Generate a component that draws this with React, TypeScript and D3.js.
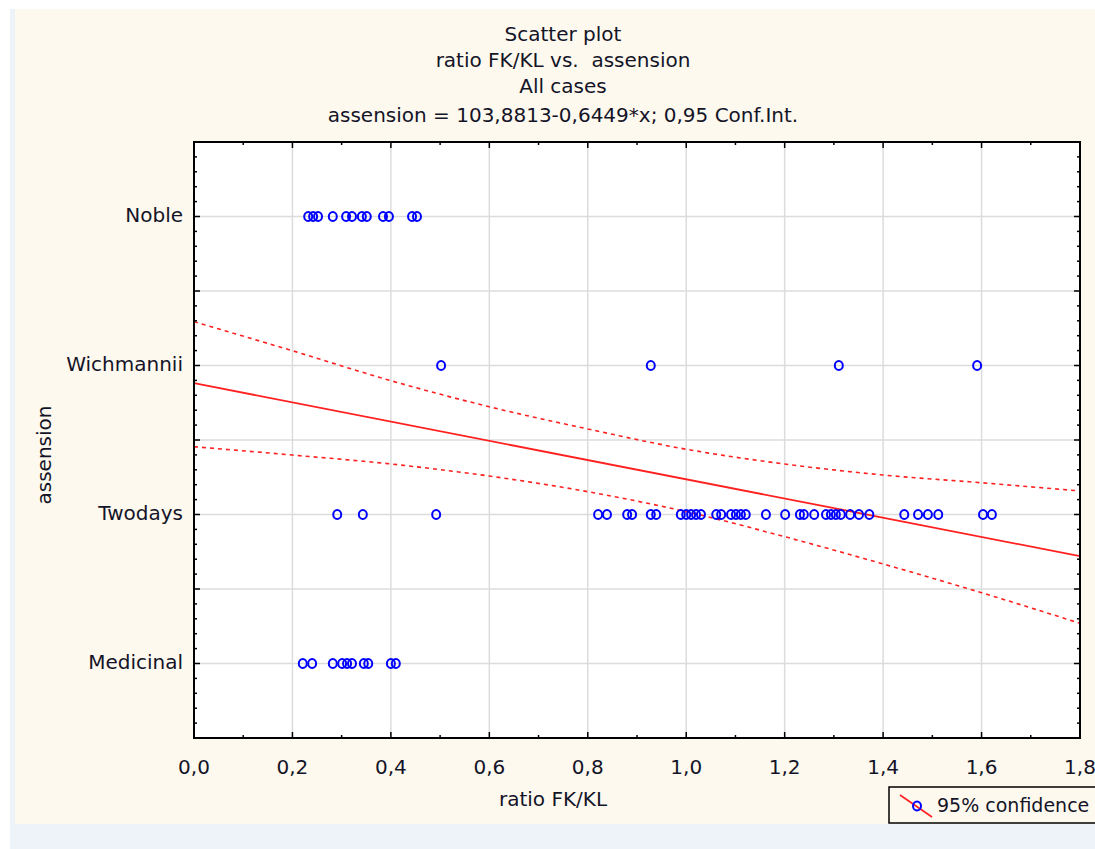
import { useEffect, useRef } from 'react'
import * as d3 from 'd3'

const categories = ['Medicinal', 'Twodays', 'Wichmannii', 'Noble']
const categoryCodes = [102, 103, 104, 105]

const xTickValues = [0, 0.2, 0.4, 0.6, 0.8, 1.0, 1.2, 1.4, 1.6, 1.8]

// ratio FK/KL per group
const nobleX = [0.232, 0.242, 0.252, 0.282, 0.309, 0.321, 0.341, 0.351, 0.384, 0.396, 0.443, 0.453]
const wichmanniiX = [0.502, 0.928, 1.31, 1.591]
const twodaysX = [
  0.291, 0.343, 0.492, 0.821, 0.839, 0.88, 0.89, 0.928, 0.939, 0.989, 1.0, 1.01, 1.02, 1.03,
  1.061, 1.071, 1.091, 1.101, 1.111, 1.121, 1.162, 1.201, 1.231, 1.239, 1.26, 1.284, 1.294,
  1.304, 1.314, 1.333, 1.351, 1.372, 1.443, 1.471, 1.491, 1.512, 1.603, 1.621
]
const medicinalX = [0.221, 0.24, 0.282, 0.301, 0.311, 0.321, 0.345, 0.354, 0.4, 0.41]

// regression from the title
const intercept = 103.8813
const slope = -0.6449

// 95% confidence bands
const bandX = [0, 0.2, 0.4, 0.6, 0.8, 1.0, 1.2, 1.4, 1.6, 1.8]
const upperBand = [104.294, 104.099, 103.898, 103.723, 103.574, 103.438, 103.339, 103.265, 103.213, 103.158]
const lowerBand = [103.455, 103.399, 103.339, 103.258, 103.153, 103.019, 102.851, 102.668, 102.475, 102.27]

const titleLines = [
  'Scatter plot',
  'ratio FK/KL vs.  assension',
  'All cases',
  'assension = 103,8813-0,6449*x; 0,95 Conf.Int.'
]

const W = 1095
const H = 849
const FONT = 'DejaVu Sans, Verdana, sans-serif'
const TEXT = '#141428'

export default function App() {
  const svgRef = useRef<SVGSVGElement>(null)

  useEffect(() => {
    if (!svgRef.current) return
    const svg = d3.select(svgRef.current)
    svg.selectAll('*').remove()

    const plot = { left: 194, right: 1080, top: 142, bottom: 738 }

    const x = d3.scaleLinear().domain([0, 1.8]).range([plot.left, plot.right])
    const y = d3.scaleLinear().domain([101.5, 105.5]).range([plot.bottom, plot.top])

    // backgrounds
    svg.append('rect').attr('width', W).attr('height', H).style('fill', '#ffffff')
    svg.append('rect').attr('x', 10).attr('y', 9).attr('width', W - 10).attr('height', H - 9).style('fill', '#eef2f9')
    svg.append('rect').attr('x', 15).attr('y', 9).attr('width', W - 15).attr('height', 815).style('fill', '#fef9ee')
    svg.append('rect')
      .attr('x', plot.left).attr('y', plot.top)
      .attr('width', plot.right - plot.left).attr('height', plot.bottom - plot.top)
      .style('fill', '#ffffff')

    const addText = (tx: number, ty: number, t: string, anchor = 'middle', size = 20) =>
      svg.append('text')
        .attr('x', tx)
        .attr('y', ty)
        .attr('text-anchor', anchor)
        .attr('dominant-baseline', 'middle')
        .style('font-family', FONT)
        .style('font-size', `${size}px`)
        .style('white-space', 'pre')
        .style('fill', TEXT)
        .text(t)

    // title
    const titleY = [35, 61, 87, 116]
    titleLines.forEach((t, i) => addText(563, titleY[i], t))

    // grid
    xTickValues.slice(1, -1).forEach(v => {
      svg.append('line')
        .attr('x1', x(v)).attr('x2', x(v))
        .attr('y1', plot.top).attr('y2', plot.bottom)
        .style('stroke', '#dcdcdc').style('stroke-width', '1.5px')
    })
    d3.range(102, 105.01, 0.5).forEach(v => {
      svg.append('line')
        .attr('x1', plot.left).attr('x2', plot.right)
        .attr('y1', y(v)).attr('y2', y(v))
        .style('stroke', '#dcdcdc').style('stroke-width', '1.5px')
    })

    const clip = svg.append('clipPath').attr('id', 'plotclip')
    clip.append('rect')
      .attr('x', plot.left).attr('y', plot.top)
      .attr('width', plot.right - plot.left).attr('height', plot.bottom - plot.top)
    const g = svg.append('g').attr('clip-path', 'url(#plotclip)')

    // confidence bands
    const bandLine = d3.line<number>()
      .x((_, i) => x(bandX[i]))
      .curve(d3.curveMonotoneX)
    ;[upperBand, lowerBand].forEach(band => {
      g.append('path')
        .attr('d', bandLine.y(d => y(d))(band))
        .style('fill', 'none')
        .style('stroke', '#ff2020')
        .style('stroke-width', '1.6px')
        .style('stroke-dasharray', '4,4')
    })

    // regression line
    g.append('line')
      .attr('x1', x(0)).attr('y1', y(intercept))
      .attr('x2', x(1.8)).attr('y2', y(intercept + slope * 1.8))
      .style('stroke', '#ff2020')
      .style('stroke-width', '1.8px')

    // points
    const groups = [medicinalX, twodaysX, wichmanniiX, nobleX]
    groups.forEach((xs, gi) => {
      xs.forEach(v => {
        g.append('ellipse')
          .attr('cx', x(v))
          .attr('cy', y(categoryCodes[gi]))
          .attr('rx', 4)
          .attr('ry', 4.5)
          .style('fill', 'none')
          .style('stroke', '#0000ff')
          .style('stroke-width', '2px')
      })
    })

    // frame
    svg.append('rect')
      .attr('x', plot.left).attr('y', plot.top)
      .attr('width', plot.right - plot.left).attr('height', plot.bottom - plot.top)
      .style('fill', 'none').style('stroke', '#000').style('stroke-width', '2px')

    // ticks (inward)
    d3.range(0, 1.801, 0.1).forEach((v, i) => {
      const len = i % 2 === 0 ? 6 : 3
      svg.append('line').attr('x1', x(v)).attr('x2', x(v))
        .attr('y1', plot.bottom).attr('y2', plot.bottom - len)
        .style('stroke', '#000').style('stroke-width', '1.5px')
      svg.append('line').attr('x1', x(v)).attr('x2', x(v))
        .attr('y1', plot.top).attr('y2', plot.top + len)
        .style('stroke', '#000').style('stroke-width', '1.5px')
    })
    d3.range(101.5, 105.501, 0.1).forEach((v, i) => {
      const len = i % 5 === 0 ? 6 : 3
      svg.append('line').attr('x1', plot.left).attr('x2', plot.left + len)
        .attr('y1', y(v)).attr('y2', y(v))
        .style('stroke', '#000').style('stroke-width', '1.5px')
      svg.append('line').attr('x1', plot.right).attr('x2', plot.right - len)
        .attr('y1', y(v)).attr('y2', y(v))
        .style('stroke', '#000').style('stroke-width', '1.5px')
    })

    // x tick labels
    xTickValues.forEach(v => addText(x(v), 768, d3.format('.1f')(v).replace('.', ',')))

    // category labels
    categories.forEach((c, i) => addText(183, y(categoryCodes[i]), c, 'end'))

    // axis titles
    addText(553, 800, 'ratio FK/KL')

    svg.append('text')
      .attr('transform', 'translate(45,455) rotate(-90)')
      .attr('text-anchor', 'middle')
      .attr('dominant-baseline', 'middle')
      .style('font-family', FONT)
      .style('font-size', '20px')
      .style('fill', TEXT)
      .text('assension')

    // legend (cut by the right edge, as in the original)
    svg.append('rect')
      .attr('x', 889).attr('y', 787).attr('width', 240).attr('height', 36)
      .style('fill', '#fef9ee').style('stroke', '#000').style('stroke-width', '1.5px')
    svg.append('line')
      .attr('x1', 900).attr('y1', 795).attr('x2', 932).attr('y2', 817)
      .style('stroke', '#ff2020').style('stroke-width', '1.6px')
    svg.append('ellipse')
      .attr('cx', 917).attr('cy', 806).attr('rx', 4).attr('ry', 4.5)
      .style('fill', 'none').style('stroke', '#0000ff').style('stroke-width', '2px')
    addText(937, 806, '95% confidence', 'start', 19)
  }, [])

  return (
    <div style={{ position: 'absolute', left: 0, top: 0 }}>
      <svg ref={svgRef} width={W} height={H} style={{ display: 'block' }} />
    </div>
  )
}
